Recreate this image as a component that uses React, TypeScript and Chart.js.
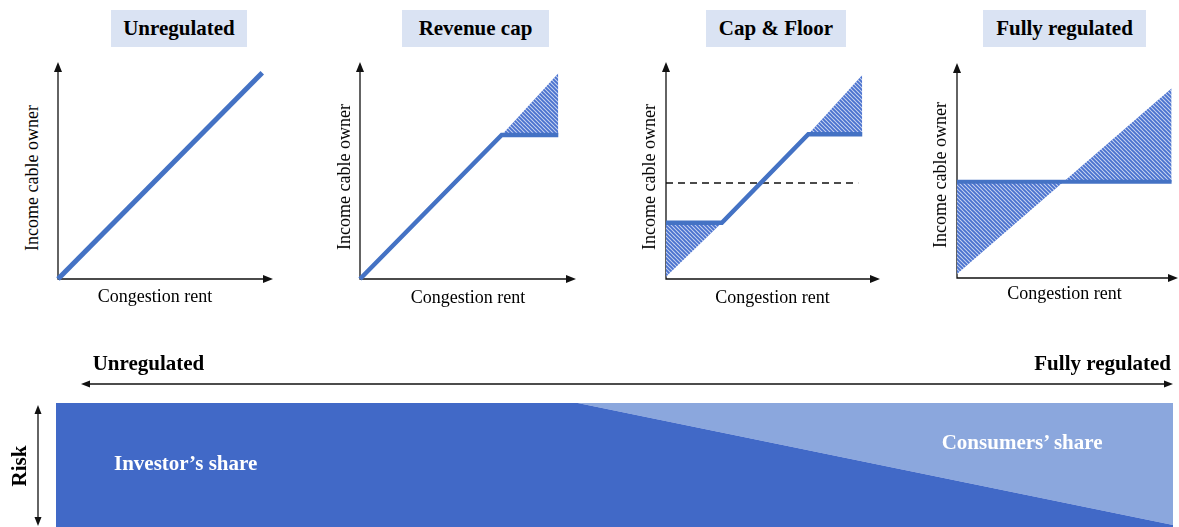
import React, { useEffect, useRef } from 'react';
import { Chart, registerables } from 'chart.js';

Chart.register(...registerables);

// ---------- data (axis units: 0 = origin, 10 = arrow tip) ----------
const panelTitles = ['Unregulated', 'Revenue cap', 'Cap & Floor', 'Fully regulated'];
const xAxisLabel = 'Congestion rent';
const yAxisLabel = 'Income cable owner';

// Unregulated
const unregRent = [0, 9.5];
const unregIncome = [0, 9.5];

// Revenue cap
const capRent = [0, 6.56, 9.18];
const capIncome = [0, 6.64, 6.64];
const capExcessRent = [6.56, 9.18];
const capExcessIncome = [6.64, 9.48];
const capLevel = 6.64;

// Cap & Floor
const cfRent = [0, 2.61, 6.65, 9.17];
const cfIncome = [2.59, 2.59, 6.67, 6.67];
const cfFloorRent = [0, 2.61];
const cfFloorIncome = [0.1, 2.59];
const cfFloorLevel = 2.59;
const cfCapRent = [6.65, 9.17];
const cfCapIncome = [6.67, 9.4];
const cfCapLevel = 6.67;
const cfTargetRent = [0, 8.98];
const cfTargetIncome = [4.42, 4.42];

// Fully regulated
const fullRent = [0, 9.71];
const fullIncome = [4.48, 4.48];
const fullMarketIncome = [0.19, 8.82];
const fullLevel = 4.48;

// Risk sharing (bottom)
const regulationLevel = [0, 0.467, 1];
const investorShare = [1, 1, 0.016];
const consumerShare = [0, 0, 0.984];
const bottomLeftLabel = 'Unregulated';
const bottomRightLabel = 'Fully regulated';
const investorLabel = 'Investor\u2019s share';
const consumerLabel = 'Consumers\u2019 share';
const riskLabel = 'Risk';

// ---------- style ----------
const SERIF = '"Liberation Serif", "Times New Roman", Times, serif';
const BLUE = '#4472c4';
const DARK = '#4169c7';
const LIGHT = '#8ba7dd';
const TITLE_BG = '#dae3f3';
const PAD = 8;
const CLEAR = 'rgba(0,0,0,0)';

const pts = (xs: number[], ys: number[]) => xs.map((x, i) => ({ x, y: ys[i] }));

function makeHatch(): CanvasPattern | string {
  const c = document.createElement('canvas');
  c.width = 4;
  c.height = 4;
  const g = c.getContext('2d');
  if (!g) return BLUE;
  g.fillStyle = '#c9d5f0';
  g.fillRect(0, 0, 4, 4);
  g.strokeStyle = '#4a72cf';
  g.lineWidth = 1.9;
  g.beginPath();
  g.moveTo(-1, -1); g.lineTo(5, 5);
  g.moveTo(3, -1); g.lineTo(5, 1);
  g.moveTo(-1, 3); g.lineTo(1, 5);
  g.stroke();
  return g.createPattern(c, 'repeat') || BLUE;
}

function arrowHead(ctx: CanvasRenderingContext2D, x: number, y: number, dx: number, dy: number, len = 10, half = 4) {
  const bx = x - dx * len;
  const by = y - dy * len;
  const px = -dy;
  const py = dx;
  ctx.beginPath();
  ctx.moveTo(x, y);
  ctx.lineTo(bx + px * half, by + py * half);
  ctx.lineTo(bx - px * half, by - py * half);
  ctx.closePath();
  ctx.fill();
}

const axesArrows = {
  id: 'axesArrows',
  beforeDatasetsDraw(chart: any) {
    const { ctx, chartArea: a } = chart;
    ctx.save();
    ctx.strokeStyle = '#111';
    ctx.fillStyle = '#111';
    ctx.lineWidth = 1.3;
    ctx.beginPath();
    ctx.moveTo(a.left, a.top + 8);
    ctx.lineTo(a.left, a.bottom);
    ctx.lineTo(a.right - 8, a.bottom);
    ctx.stroke();
    arrowHead(ctx, a.left, a.top, 0, -1);
    arrowHead(ctx, a.right, a.bottom, 1, 0);
    ctx.restore();
  },
};

const riskArrows = {
  id: 'riskArrows',
  afterDraw(chart: any) {
    const { ctx, chartArea: a } = chart;
    ctx.save();
    ctx.strokeStyle = '#111';
    ctx.fillStyle = '#111';
    ctx.lineWidth = 1.3;
    const hy = a.top - 19;
    const hx1 = a.left + 25;
    const hx2 = a.right;
    ctx.beginPath();
    ctx.moveTo(hx1 + 6, hy);
    ctx.lineTo(hx2 - 6, hy);
    ctx.stroke();
    arrowHead(ctx, hx1, hy, -1, 0, 9, 3.5);
    arrowHead(ctx, hx2, hy, 1, 0, 9, 3.5);
    const vx = a.left - 18;
    const vy1 = a.top + 2;
    const vy2 = a.bottom - 1;
    ctx.beginPath();
    ctx.moveTo(vx, vy1 + 6);
    ctx.lineTo(vx, vy2 - 6);
    ctx.stroke();
    arrowHead(ctx, vx, vy1, 0, -1, 9, 3.5);
    arrowHead(ctx, vx, vy2, 0, 1, 9, 3.5);
    ctx.restore();
  },
};

type Geo = { ox: number; oy: number; tx: number; ty: number };

const lineDs = (xs: number[], ys: number[], width: number) => ({
  data: pts(xs, ys),
  borderColor: BLUE,
  borderWidth: width,
  pointRadius: 0,
  fill: false,
  borderJoinStyle: 'miter' as const,
  clip: false as const,
});

const hatchDs = (xs: number[], ys: number[], level: number, pattern: any) => ({
  data: pts(xs, ys),
  borderColor: CLEAR,
  borderWidth: 0,
  pointRadius: 0,
  fill: { value: level },
  backgroundColor: pattern,
});

function Panel({ geo, build }: { geo: Geo; build: (p: any) => any[] }) {
  const ref = useRef<HTMLCanvasElement>(null);
  const w = geo.tx - geo.ox + 2 * PAD;
  const h = geo.oy - geo.ty + 2 * PAD;
  useEffect(() => {
    if (!ref.current) return;
    const pattern = makeHatch();
    const chart = new Chart(ref.current, {
      type: 'line',
      data: { datasets: build(pattern) },
      options: {
        animation: false,
        responsive: false,
        maintainAspectRatio: false,
        events: [],
        layout: { padding: PAD },
        scales: {
          x: { type: 'linear', min: 0, max: 10, display: false },
          y: { type: 'linear', min: 0, max: 10, display: false },
        },
        plugins: { legend: { display: false }, tooltip: { enabled: false } },
      },
      plugins: [axesArrows],
    } as any);
    return () => chart.destroy();
  }, []);
  return (
    <canvas
      ref={ref}
      width={w}
      height={h}
      style={{ position: 'absolute', left: geo.ox - PAD, top: geo.ty - PAD, width: w, height: h }}
    />
  );
}

function RiskChart() {
  const ref = useRef<HTMLCanvasElement>(null);
  useEffect(() => {
    if (!ref.current) return;
    const chart = new Chart(ref.current, {
      type: 'line',
      data: {
        datasets: [
          {
            label: investorLabel,
            data: pts(regulationLevel, investorShare),
            borderColor: CLEAR,
            borderWidth: 0,
            pointRadius: 0,
            fill: 'origin',
            backgroundColor: DARK,
          },
          {
            label: consumerLabel,
            data: pts(regulationLevel, consumerShare),
            borderColor: CLEAR,
            borderWidth: 0,
            pointRadius: 0,
            fill: '-1',
            backgroundColor: LIGHT,
          },
        ],
      },
      options: {
        animation: false,
        responsive: false,
        maintainAspectRatio: false,
        events: [],
        layout: { padding: { left: 56, right: 6, top: 63, bottom: 0 } },
        scales: {
          x: { type: 'linear', min: 0, max: 1, display: false },
          y: { type: 'linear', min: 0, max: 1, stacked: true, display: false },
        },
        plugins: { legend: { display: false }, tooltip: { enabled: false } },
      },
      plugins: [riskArrows],
    } as any);
    return () => chart.destroy();
  }, []);
  return (
    <canvas
      ref={ref}
      width={1179}
      height={187}
      style={{ position: 'absolute', left: 0, top: 340, width: 1179, height: 187 }}
    />
  );
}

function Label({
  x, y, text, size = 18, bold = false, color = '#000', anchor = 'center', rotate = false,
}: {
  x: number; y: number; text: string; size?: number; bold?: boolean; color?: string;
  anchor?: 'center' | 'left' | 'right'; rotate?: boolean;
}) {
  const tx = anchor === 'center' ? '-50%' : anchor === 'left' ? '0' : '-100%';
  return (
    <div
      style={{
        position: 'absolute',
        left: x,
        top: y,
        transform: `translate(${tx},-50%)${rotate ? ' rotate(-90deg)' : ''}`,
        fontFamily: SERIF,
        fontSize: size,
        fontWeight: bold ? 700 : 400,
        lineHeight: 1,
        whiteSpace: 'nowrap',
        color,
      }}
    >
      {text}
    </div>
  );
}

function TitleBox({ left, width, text }: { left: number; width: number; text: string }) {
  return (
    <div
      style={{
        position: 'absolute',
        left,
        top: 10,
        width,
        height: 37,
        background: TITLE_BG,
        fontFamily: SERIF,
        fontWeight: 700,
        fontSize: 21,
        lineHeight: '37px',
        textAlign: 'center',
        color: '#000',
        whiteSpace: 'nowrap',
      }}
    >
      {text}
    </div>
  );
}

const geos: Geo[] = [
  { ox: 58, oy: 279, tx: 273, ty: 62 },
  { ox: 360, oy: 279, tx: 576, ty: 62 },
  { ox: 665.5, oy: 279, tx: 880, ty: 62 },
  { ox: 957, oy: 278, tx: 1178, ty: 63 },
];

const titleBoxes = [
  { left: 111, width: 136 },
  { left: 402, width: 147 },
  { left: 706, width: 140 },
  { left: 983, width: 163 },
];

const xLabelPos = [
  { x: 155, y: 296 },
  { x: 468, y: 297 },
  { x: 772.5, y: 297 },
  { x: 1064.5, y: 293 },
];

const yLabelPos = [
  { x: 31.5, y: 178 },
  { x: 344, y: 177 },
  { x: 649, y: 177 },
  { x: 940, y: 175 },
];

const builders: ((p: any) => any[])[] = [
  () => [lineDs(unregRent, unregIncome, 5)],
  (p) => [
    lineDs(capRent, capIncome, 4.5),
    hatchDs(capExcessRent, capExcessIncome, capLevel, p),
  ],
  (p) => [
    lineDs(cfRent, cfIncome, 4.5),
    {
      data: pts(cfTargetRent, cfTargetIncome),
      borderColor: '#111',
      borderWidth: 1.5,
      borderDash: [7, 5],
      pointRadius: 0,
      fill: false,
    },
    hatchDs(cfFloorRent, cfFloorIncome, cfFloorLevel, p),
    hatchDs(cfCapRent, cfCapIncome, cfCapLevel, p),
  ],
  (p) => [
    lineDs(fullRent, fullIncome, 4),
    hatchDs(fullRent, fullMarketIncome, fullLevel, p),
  ],
];

export default function App() {
  return (
    <div
      style={{
        position: 'absolute',
        left: 0,
        top: 0,
        width: 1179,
        height: 527,
        overflow: 'hidden',
        background: '#fff',
      }}
    >
      {geos.map((g, i) => (
        <Panel key={i} geo={g} build={builders[i]} />
      ))}
      {titleBoxes.map((b, i) => (
        <TitleBox key={i} left={b.left} width={b.width} text={panelTitles[i]} />
      ))}
      {xLabelPos.map((p, i) => (
        <Label key={'x' + i} x={p.x} y={p.y} text={xAxisLabel} size={18} />
      ))}
      {yLabelPos.map((p, i) => (
        <Label key={'y' + i} x={p.x} y={p.y} text={yAxisLabel} size={18} rotate />
      ))}
      <RiskChart />
      <Label x={92.7} y={363} text={bottomLeftLabel} size={21} bold anchor="left" />
      <Label x={1171} y={363} text={bottomRightLabel} size={21} bold anchor="right" />
      <Label x={114} y={462.5} text={investorLabel} size={21} bold color="#fff" anchor="left" />
      <Label x={941.7} y={442} text={consumerLabel} size={21} bold color="#fff" anchor="left" />
      <Label x={19} y={466} text={riskLabel} size={21} bold rotate />
    </div>
  );
}
